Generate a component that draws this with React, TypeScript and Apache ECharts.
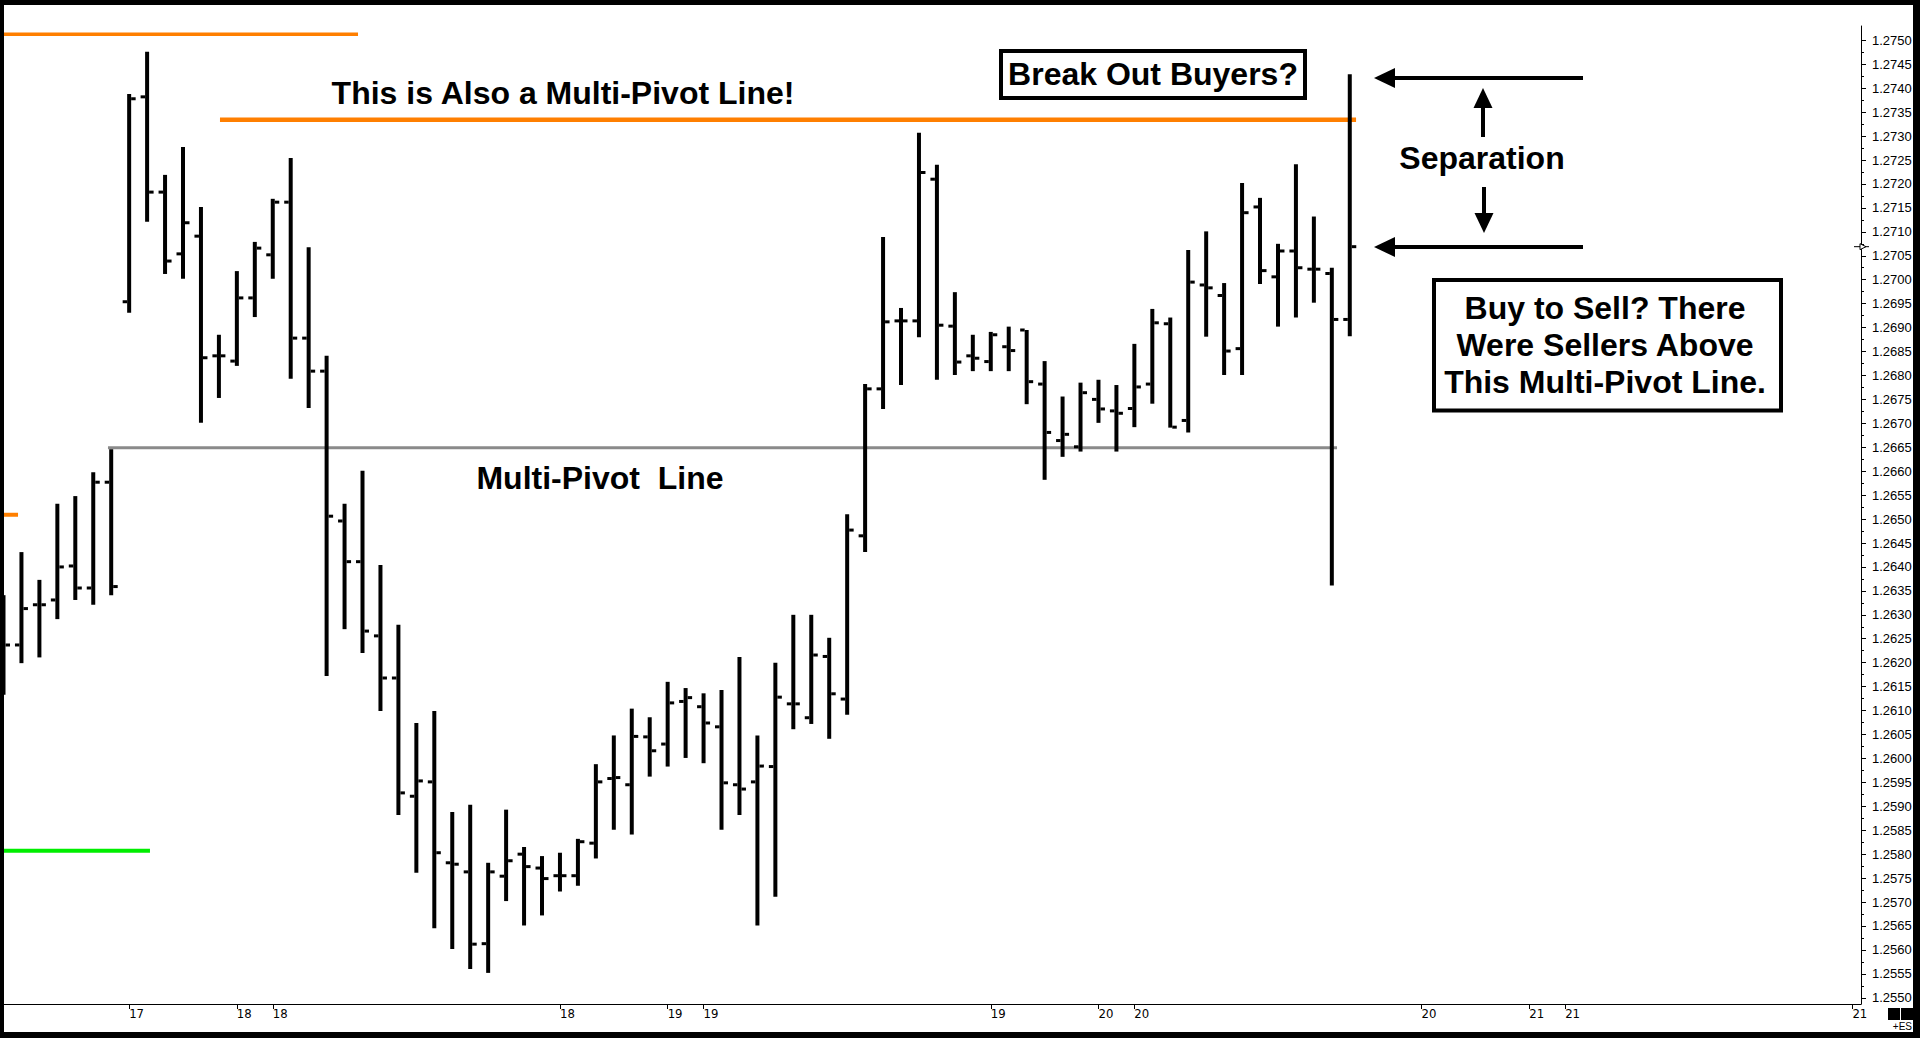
import React, { useEffect, useRef } from "react";
import * as echarts from "echarts";

// ---- OHLC hourly bars (price) ----
const opens = [
  1.2628, 1.26237, 1.26321, 1.26331, 1.26402, 1.26356, 1.26577, 1.26954, 1.27382, 1.27183,
  1.27054, 1.27091, 1.26841, 1.2683, 1.26962, 1.27052, 1.27162, 1.26878, 1.26809, 1.26496,
  1.26411, 1.26256, 1.26168, 1.25921, 1.25951, 1.25782, 1.25763, 1.25613, 1.25754, 1.258,
  1.25771, 1.25755, 1.25755, 1.25823, 1.25958, 1.25945, 1.26045, 1.2603, 1.26119, 1.26108,
  1.26066, 1.25945, 1.25951, 1.25983, 1.26114, 1.26085, 1.26213, 1.26124, 1.26465, 1.26772,
  1.26914, 1.26914, 1.2721, 1.26903, 1.26841, 1.26829, 1.2686, 1.26895, 1.26782, 1.26664,
  1.26651, 1.2675, 1.26726, 1.26731, 1.26782, 1.26908, 1.26706, 1.26989, 1.26967, 1.26856,
  1.27152, 1.27006, 1.2706, 1.27022, 1.27013, 1.26917,
];
const highs = [
  1.26341, 1.26431, 1.26373, 1.26532, 1.26548, 1.26598, 1.26646, 1.27388, 1.27476, 1.27219,
  1.27277, 1.27152, 1.26885, 1.27018, 1.27079, 1.27169, 1.27254, 1.27068, 1.26841, 1.26532,
  1.26601, 1.26404, 1.26279, 1.26074, 1.26099, 1.25888, 1.25903, 1.25782, 1.25893, 1.25815,
  1.25796, 1.25803, 1.25832, 1.25988, 1.26048, 1.26104, 1.26086, 1.2616, 1.26147, 1.26136,
  1.26143, 1.26212, 1.26048, 1.262, 1.263, 1.263, 1.26252, 1.2651, 1.26782, 1.27089,
  1.26941, 1.27307, 1.2724, 1.26974, 1.26885, 1.26891, 1.26902, 1.26895, 1.2683, 1.26756,
  1.26785, 1.26791, 1.2678, 1.26866, 1.26939, 1.26921, 1.27062, 1.27101, 1.26993, 1.27202,
  1.27171, 1.27075, 1.27241, 1.27132, 1.27025, 1.27429,
];
const lows = [
  1.26133, 1.26199, 1.26211, 1.26291, 1.26331, 1.26321, 1.26341, 1.26931, 1.27121, 1.27012,
  1.27002, 1.26701, 1.26753, 1.2682, 1.26922, 1.27002, 1.26793, 1.26732, 1.26172, 1.2627,
  1.2622, 1.26099, 1.25882, 1.25761, 1.25645, 1.25602, 1.2556, 1.25552, 1.25702, 1.25651,
  1.25672, 1.25722, 1.25734, 1.25791, 1.25851, 1.25841, 1.25962, 1.25983, 1.26001, 1.2599,
  1.25851, 1.25882, 1.25651, 1.25711, 1.26061, 1.26072, 1.26041, 1.26091, 1.26431, 1.2673,
  1.2678, 1.2688, 1.26791, 1.26801, 1.26809, 1.26809, 1.26809, 1.2674, 1.26582, 1.2663,
  1.26641, 1.26701, 1.26641, 1.26692, 1.26741, 1.26691, 1.26681, 1.26881, 1.26801, 1.26801,
  1.26991, 1.26902, 1.26921, 1.26952, 1.26361, 1.26882,
];
const closes = [
  1.26237, 1.26313, 1.26321, 1.264, 1.26356, 1.26577, 1.26359, 1.27378, 1.27183, 1.27039,
  1.27119, 1.26837, 1.26841, 1.26962, 1.27066, 1.27162, 1.26878, 1.26809, 1.26506, 1.26411,
  1.26266, 1.26168, 1.25928, 1.25953, 1.25803, 1.25779, 1.25612, 1.25763, 1.25786, 1.25774,
  1.25749, 1.25755, 1.25826, 1.25951, 1.2596, 1.26046, 1.26016, 1.26116, 1.26127, 1.26074,
  1.25949, 1.25936, 1.25984, 1.26128, 1.26114, 1.26216, 1.26135, 1.26477, 1.26772, 1.26912,
  1.26914, 1.27224, 1.26905, 1.26828, 1.26836, 1.26885, 1.26852, 1.26787, 1.26681, 1.26677,
  1.26764, 1.2673, 1.26721, 1.26776, 1.2691, 1.26692, 1.26995, 1.26983, 1.26851, 1.2714,
  1.27019, 1.2706, 1.27025, 1.27022, 1.26917, 1.27069,
];

// ---- x axis (bar index) tick labels: day of month ----
const xTickIndex = [7, 13, 15, 31, 37, 39, 55, 61, 63, 79, 85, 87, 103];
const xTickLabels = ["17", "18", "18", "18", "19", "19", "19", "20", "20", "20", "21", "21", "21"];

// ---- y axis tick labels ----
const yTickLabels = [
  "1.2550", "1.2555", "1.2560", "1.2565", "1.2570", "1.2575", "1.2580", "1.2585", "1.2590",
  "1.2595", "1.2600", "1.2605", "1.2610", "1.2615", "1.2620", "1.2625", "1.2630", "1.2635",
  "1.2640", "1.2645", "1.2650", "1.2655", "1.2660", "1.2665", "1.2670", "1.2675", "1.2680",
  "1.2685", "1.2690", "1.2695", "1.2700", "1.2705", "1.2710", "1.2715", "1.2720", "1.2725",
  "1.2730", "1.2735", "1.2740", "1.2745", "1.2750",
];

// ---- horizontal pivot level lines (price, bar-index span) ----
const levelNames = ["top orange", "also multi-pivot", "orange stub", "green", "multi-pivot"];
const levelPrices = [1.27513, 1.27334, 1.26509, 1.25807, 1.26649];
const levelFrom = [-0.2, 12.06, -0.2, -0.2, 5.82];
const levelTo = [19.75, 75.35, 0.81, 8.16, 74.29];
const levelColors = ["#ff7f00", "#ff7f00", "#ff7f00", "#00ee00", "#8a8a8a"];
const levelWidths = [3.5, 4.5, 4, 4, 3];

const X_MIN = -0.195;
const X_MAX = 103.48;
const Y_MIN = 1.25487;
const Y_MAX = 1.2753;

const BOLD = '"Liberation Sans", Arial, sans-serif';

export default function App() {
  const ref = useRef<HTMLDivElement>(null);

  useEffect(() => {
    document.body.style.margin = "0";
    const chart = echarts.init(ref.current as HTMLDivElement, null, { renderer: "svg" });

    const yTickValues = yTickLabels.map((s) => parseFloat(s));
    const yMinorValues = yTickValues.slice(0, -1).map((v, i) => (v + yTickValues[i + 1]) / 2);
    const ohlcData = opens.map((o, i) => [i, o, highs[i], lows[i], closes[i]]);

    const levelSeries = levelPrices.map((p, k) => ({
      name: levelNames[k],
      type: "line",
      data: [
        [levelFrom[k], p],
        [levelTo[k], p],
      ],
      symbol: "none",
      silent: true,
      z: 1,
      lineStyle: { color: levelColors[k], width: levelWidths[k], cap: "butt" },
    }));

    chart.setOption({
      animation: false,
      backgroundColor: "#ffffff",
      grid: { left: 0, right: 59, top: 26, bottom: 34, containLabel: false },
      xAxis: {
        type: "value",
        min: X_MIN,
        max: X_MAX,
        position: "bottom",
        axisLine: { show: true, onZero: false, lineStyle: { color: "#000", width: 1 } },
        axisTick: { show: true, customValues: xTickIndex, length: 5, lineStyle: { color: "#000" } },
        axisLabel: {
          customValues: xTickIndex,
          formatter: (v: number) => xTickLabels[xTickIndex.indexOf(Math.round(v))] ?? "",
          align: "left",
          color: "#000",
          fontFamily: '"Liberation Sans Narrow", "DejaVu Sans Condensed", sans-serif',
          fontSize: 13,
          margin: 3,
        },
        splitLine: { show: false },
      },
      yAxis: [
        {
          type: "value",
          position: "right",
          min: Y_MIN,
          max: Y_MAX,
          axisLine: { show: true, onZero: false, lineStyle: { color: "#000", width: 1 } },
          axisTick: { show: true, customValues: yTickValues, length: 5, lineStyle: { color: "#000" } },
          axisLabel: {
            customValues: yTickValues,
            formatter: (v: number) => v.toFixed(4),
            color: "#000",
            fontFamily: '"Liberation Sans", Arial, sans-serif',
            fontSize: 13,
            margin: 11,
          },
          splitLine: { show: false },
        },
        {
          type: "value",
          position: "right",
          min: Y_MIN,
          max: Y_MAX,
          axisLine: { show: false, onZero: false },
          axisTick: { show: true, customValues: yMinorValues, length: 3, lineStyle: { color: "#000" } },
          axisLabel: { show: false },
          splitLine: { show: false },
        },
      ],
      series: [
        ...levelSeries,
        {
          name: "EURUSD-like",
          type: "custom",
          z: 3,
          clip: true,
          data: ohlcData,
          encode: { x: 0, y: [1, 2, 3, 4] },
          renderItem: (_params: any, api: any) => {
            const i = api.value(0);
            const pO = api.coord([i, api.value(1)]);
            const pH = api.coord([i, api.value(2)]);
            const pL = api.coord([i, api.value(3)]);
            const pC = api.coord([i, api.value(4)]);
            const x = pH[0];
            return {
              type: "group",
              children: [
                { type: "rect", shape: { x: x - 2, y: pH[1], width: 4, height: pL[1] - pH[1] }, style: { fill: "#000" } },
                { type: "rect", shape: { x: x - 6.5, y: pO[1] - 1.5, width: 4.5, height: 3 }, style: { fill: "#000" } },
                { type: "rect", shape: { x: x + 2, y: pC[1] - 1.5, width: 4.5, height: 3 }, style: { fill: "#000" } },
              ],
            };
          },
        },
      ],
    });

    const lastClose = closes[closes.length - 1];
    const py = chart.convertToPixel({ xAxisIndex: 0, yAxisIndex: 0 }, [0, lastClose])[1];
    const axisX = chart.convertToPixel({ xAxisIndex: 0, yAxisIndex: 0 }, [X_MAX, lastClose])[0];

    const txt = (text: string, x: number, y: number, size = 32) => ({
      type: "text",
      x,
      y,
      z: 50,
      silent: true,
      style: {
        text,
        fill: "#000",
        fontSize: size,
        fontWeight: "bold",
        fontFamily: BOLD,
        align: "center",
        verticalAlign: "middle",
      },
    });
    const blk = { fill: "#000" };

    chart.setOption({
      graphic: [
        // annotations
        txt("This is Also a Multi-Pivot Line!", 563, 93),
        txt("Multi-Pivot  Line", 600, 478),
        { type: "rect", z: 49, shape: { x: 1001, y: 51, width: 304, height: 47 }, style: { fill: "#fff", stroke: "#000", lineWidth: 4 } },
        txt("Break Out Buyers?", 1153, 74),
        txt("Separation", 1482, 158),
        // horizontal arrows
        { type: "line", z: 50, shape: { x1: 1392, y1: 78, x2: 1583, y2: 78 }, style: { stroke: "#000", lineWidth: 4 } },
        { type: "polygon", z: 50, shape: { points: [[1374, 78], [1395, 68], [1395, 88]] }, style: blk },
        { type: "line", z: 50, shape: { x1: 1392, y1: 247, x2: 1583, y2: 247 }, style: { stroke: "#000", lineWidth: 4 } },
        { type: "polygon", z: 50, shape: { points: [[1374, 247], [1395, 237], [1395, 257]] }, style: blk },
        // vertical arrows
        { type: "line", z: 50, shape: { x1: 1483, y1: 137, x2: 1483, y2: 106 }, style: { stroke: "#000", lineWidth: 4 } },
        { type: "polygon", z: 50, shape: { points: [[1483, 88], [1473.5, 108], [1492.5, 108]] }, style: blk },
        { type: "line", z: 50, shape: { x1: 1484, y1: 187, x2: 1484, y2: 215 }, style: { stroke: "#000", lineWidth: 4 } },
        { type: "polygon", z: 50, shape: { points: [[1484, 233], [1474.5, 213], [1493.5, 213]] }, style: blk },
        // second box
        { type: "rect", z: 49, shape: { x: 1434, y: 280, width: 347, height: 130.5 }, style: { fill: "#fff", stroke: "#000", lineWidth: 4 } },
        txt("Buy to Sell? There", 1605, 308),
        txt("Were Sellers Above", 1605, 345),
        txt("This Multi-Pivot Line.", 1605, 382),
        // last price marker
        { type: "line", z: 60, shape: { x1: axisX - 7, y1: py, x2: axisX + 8, y2: py }, style: { stroke: "#000", lineWidth: 1 } },
        { type: "polygon", z: 61, shape: { points: [[axisX - 1, py - 3], [axisX + 5, py], [axisX - 1, py + 3]] }, style: { fill: "#fff", stroke: "#000", lineWidth: 1 } },
        // bottom-right widgets
        { type: "rect", z: 60, shape: { x: 1888, y: 1008, width: 12, height: 12 }, style: blk },
        { type: "rect", z: 60, shape: { x: 1901, y: 1008, width: 12, height: 12 }, style: blk },
        {
          type: "text",
          z: 60,
          x: 1912,
          y: 1026,
          style: { text: "+ES", fill: "#000", fontSize: 10, fontFamily: '"Liberation Sans Narrow", sans-serif', align: "right", verticalAlign: "middle" },
        },
        // frame
        { type: "rect", z: 100, shape: { x: 0, y: 0, width: 1920, height: 5 }, style: blk },
        { type: "rect", z: 100, shape: { x: 0, y: 0, width: 4, height: 1038 }, style: blk },
        { type: "rect", z: 100, shape: { x: 1913, y: 0, width: 7, height: 1038 }, style: blk },
        { type: "rect", z: 100, shape: { x: 0, y: 1032, width: 1920, height: 6 }, style: blk },
      ],
    });

    return () => chart.dispose();
  }, []);

  return <div ref={ref} style={{ width: 1920, height: 1038, background: "#fff" }} />;
}
